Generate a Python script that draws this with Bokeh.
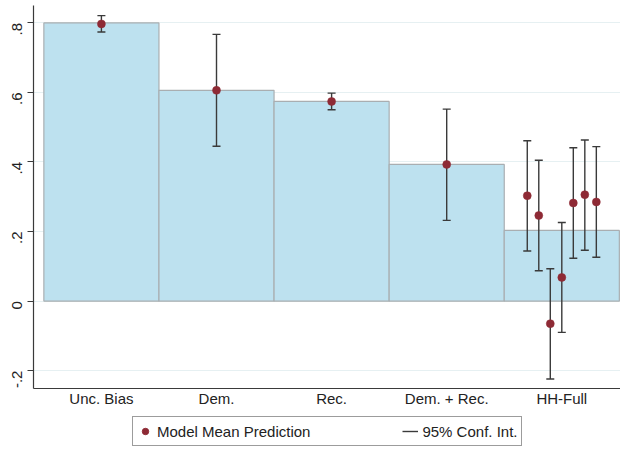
import math
import numpy as np
from bokeh.plotting import figure
from bokeh.layouts import column
from bokeh.models import (ColumnDataSource, FixedTicker, Legend, LegendItem, Range1d)
from bokeh.embed import file_html
from bokeh.resources import INLINE

# ---- data ----
categories = ["Unc. Bias", "Dem.", "Rec.", "Dem. + Rec.", "HH-Full"]
bar_values = [0.800, 0.606, 0.574, 0.393, 0.203]

model_means = [0.797, 0.606, 0.574, 0.393]
model_lower = [0.774, 0.445, 0.550, 0.232]
model_upper = [0.821, 0.767, 0.598, 0.552]

hh_means = [0.303, 0.246, -0.065, 0.068, 0.282, 0.306, 0.285]
hh_lower = [0.144, 0.087, -0.224, -0.090, 0.123, 0.146, 0.126]
hh_upper = [0.461, 0.405, 0.093, 0.226, 0.441, 0.463, 0.444]

y_ticks = [-0.2, 0.0, 0.2, 0.4, 0.6, 0.8]
y_tick_labels = ["-.2", "0", ".2", ".4", ".6", ".8"]

legend_labels = ["Model Mean Prediction", "95% Conf. Int."]

# ---- derived positions ----
bar_x = list(range(1, len(categories) + 1))
n_hh = len(hh_means)
hh_x = list(bar_x[-1] + (np.arange(n_hh) - (n_hh - 1) / 2) * 0.1)

pt_x = bar_x[:len(model_means)] + hh_x
pt_mean = model_means + hh_means
pt_lo = model_lower + hh_lower
pt_hi = model_upper + hh_upper

FONT = "Liberation Sans"
TXT = "#222222"
AX = "#3a3a3a"
PT = "#8E2A35"
W = 620
H_LEG = 36
H_MAIN = 447 - H_LEG

p = figure(width=W, height=H_MAIN, output_backend="svg", toolbar_location=None,
           x_range=Range1d(0.41, 5.51), y_range=Range1d(-0.2515, 0.850),
           min_border_top=5, min_border_right=0, min_border_left=33,
           min_border_bottom=23)
p.outline_line_color = None
p.background_fill_color = "white"
p.border_fill_color = "white"

bar_src = ColumnDataSource(dict(x=bar_x, top=bar_values))
p.vbar(x="x", top="top", bottom=0, width=1.0, source=bar_src,
       fill_color="#BDE1EF", line_color="#A9AEB1", line_width=1.2)

pt_src = ColumnDataSource(dict(x=pt_x, mean=pt_mean, lo=pt_lo, hi=pt_hi))
p.segment(x0="x", y0="lo", x1="x", y1="hi", source=pt_src,
          line_color=AX, line_width=1.4)
p.scatter(x="x", y="hi", source=pt_src, marker="dash", size=8,
          line_color=AX, line_width=1.4)
p.scatter(x="x", y="lo", source=pt_src, marker="dash", size=8,
          line_color=AX, line_width=1.4)
p.scatter(x="x", y="mean", source=pt_src, marker="circle", size=8,
          fill_color=PT, line_color=PT, line_width=0.5)

# axes
p.xaxis.ticker = FixedTicker(ticks=bar_x)
p.xaxis.major_label_overrides = {x: c for x, c in zip(bar_x, categories)}
p.xaxis.minor_tick_line_color = None
p.xaxis.major_tick_out = 0
p.xaxis.major_tick_in = 0
p.xaxis.major_label_standoff = 1

p.yaxis.ticker = FixedTicker(ticks=y_ticks)
p.yaxis.major_label_overrides = {t: l for t, l in zip(y_ticks, y_tick_labels)}
p.yaxis.major_label_orientation = math.pi / 2
p.yaxis.minor_tick_line_color = None
p.yaxis.major_tick_out = 6
p.yaxis.major_tick_in = 0
p.yaxis.major_label_standoff = 10

for ax in (p.xaxis, p.yaxis):
    ax.axis_line_color = AX
    ax.axis_line_width = 1.2
    ax.major_label_text_font = FONT
    ax.major_label_text_font_size = "15px"
    ax.major_label_text_color = TXT
p.yaxis.major_tick_line_color = AX
p.xaxis.major_tick_line_color = None

p.xgrid.grid_line_color = None
p.ygrid.ticker = FixedTicker(ticks=y_ticks)
p.ygrid.grid_line_color = "#E6F0F2"
p.ygrid.grid_line_width = 1

# ---- legend strip (same data and styles, ranges kept off the data) ----
lf = figure(width=W, height=H_LEG, output_backend="svg", toolbar_location=None,
            x_range=Range1d(100, 101), y_range=Range1d(100, 101),
            x_axis_type=None, y_axis_type=None,
            min_border_top=0, min_border_right=0, min_border_left=0,
            min_border_bottom=0)
lf.outline_line_color = None
lf.grid.grid_line_color = None
lf.background_fill_color = "white"
lf.border_fill_color = "white"
leg_pts = lf.scatter(x="x", y="mean", source=pt_src, marker="circle", size=8,
                     fill_color=PT, line_color=PT)
leg_seg = lf.segment(x0="x", y0="lo", x1="x", y1="hi", source=pt_src,
                     line_color=AX, line_width=1.4)

legend = Legend(items=[LegendItem(label=legend_labels[0], renderers=[leg_pts]),
                       LegendItem(label=legend_labels[1], renderers=[leg_seg])],
                orientation="horizontal", location=(99, 1),
                label_text_font=FONT, label_text_font_size="15px",
                label_text_color=TXT,
                glyph_width=16, glyph_height=20, label_height=20,
                label_standoff=4, spacing=92, padding=4, margin=0,
                border_line_color=AX, border_line_width=1,
                background_fill_color="white", background_fill_alpha=1.0)
lf.add_layout(legend, "center")

layout = column(p, lf, spacing=0)
open("out.html", "w").write(file_html(layout, INLINE))
